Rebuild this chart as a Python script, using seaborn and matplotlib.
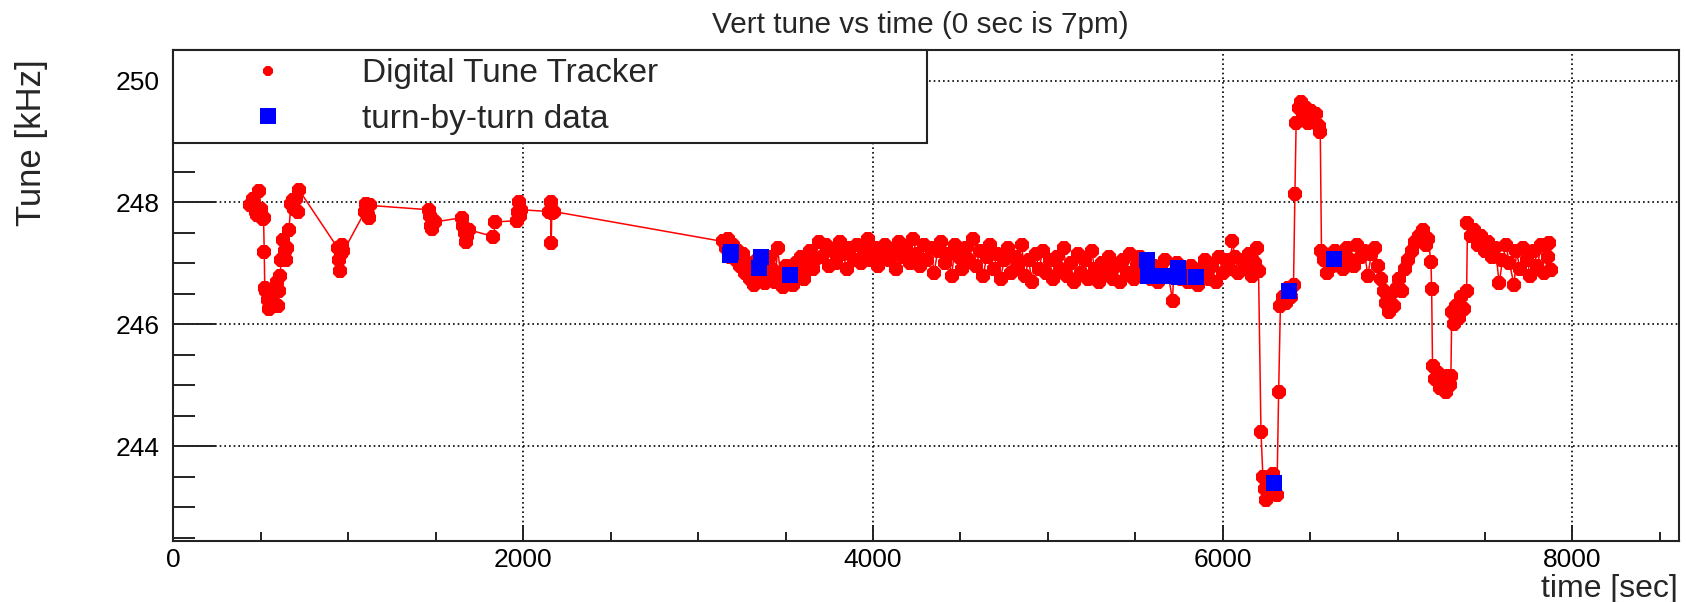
import matplotlib
matplotlib.use("Agg")
import matplotlib.pyplot as plt
from matplotlib.lines import Line2D
from matplotlib.ticker import MultipleLocator
import seaborn as sns
import numpy as np

# Digital Tune Tracker readings (time in sec, tune in kHz)
dtt_time = [
    440, 452, 462, 470, 480, 491, 500, 510, 515, 519, 522, 530, 540, 548, 560,
    575, 590, 600, 605, 610, 615, 624, 635, 643, 650, 660, 672, 681, 690, 700,
    710, 719, 940, 948, 952, 958, 965, 972, 1095, 1100, 1110, 1118, 1125,
    1460, 1468, 1472, 1478, 1490, 1495, 1650, 1655, 1665, 1672, 1680, 1690,
    1830, 1840, 1965, 1972, 1977, 1980, 1985, 2150, 2158, 2160, 2163, 2175,
    3140, 3158, 3172, 3185, 3200, 3215, 3228, 3240, 3255, 3268, 3280, 3295,
    3310, 3322, 3338, 3350, 3365, 3380, 3395, 3410, 3425, 3440, 3455, 3470,
    3485, 3500, 3515, 3530, 3545, 3560, 3575, 3590, 3605, 3620, 3640, 3655,
    3670, 3690, 3710, 3730, 3750, 3770, 3790, 3810, 3830, 3850, 3870, 3890,
    3910, 3930, 3950, 3970, 3990, 4010, 4030, 4050, 4070, 4090, 4110, 4130,
    4150, 4170, 4190, 4210, 4230, 4250, 4270, 4290, 4310, 4330, 4350, 4370,
    4390, 4410, 4430, 4450, 4470, 4490, 4510, 4530, 4550, 4570, 4590, 4610,
    4630, 4650, 4670, 4690, 4710, 4730, 4750, 4770, 4790, 4810, 4830, 4850,
    4870, 4890, 4910, 4930, 4950, 4970, 4990, 5010, 5030, 5050, 5070, 5090,
    5110, 5130, 5150, 5170, 5190, 5210, 5230, 5250, 5270, 5290, 5310, 5330,
    5350, 5370, 5390, 5410, 5430, 5450, 5470, 5490, 5510, 5530, 5550, 5570,
    5590, 5610, 5630, 5650, 5670, 5690, 5713, 5720, 5740, 5760, 5780, 5800,
    5820, 5840, 5860, 5880, 5900, 5920, 5940, 5960, 5980, 6000, 6020, 6040,
    6056, 6070, 6090, 6110, 6130, 6150, 6170, 6185, 6199, 6205,
    6219, 6230, 6240, 6247, 6260, 6272, 6285, 6295, 6310, 6320,
    6330, 6345, 6360, 6375, 6390, 6405, 6413, 6420, 6435, 6445, 6460, 6475,
    6490, 6505, 6520, 6535, 6550, 6558, 6565, 6580, 6595, 6610, 6625, 6640,
    6655, 6670, 6690, 6710, 6730, 6750, 6770, 6790, 6810, 6830, 6850, 6870,
    6890, 6905, 6920, 6935, 6952, 6965, 6980, 6995, 7010, 7025, 7040, 7060,
    7080, 7100, 7120, 7143, 7160, 7175, 7191, 7195, 7200, 7215, 7230, 7245,
    7260, 7275, 7290, 7300, 7305, 7310, 7320, 7335, 7350, 7365, 7380, 7395,
    7400, 7420, 7440, 7460, 7480, 7500, 7520, 7540, 7560, 7581, 7600, 7620,
    7640, 7667, 7680, 7700, 7720, 7740, 7760, 7780, 7800, 7820, 7840, 7860,
    7867, 7880,
]
dtt_tune = [
    247.95, 248.05, 247.98, 247.85, 247.80, 248.18, 247.90, 247.72, 247.75, 247.19, 246.60, 246.55, 246.40, 246.25, 246.50,
    246.35, 246.70, 246.30, 246.55, 246.80, 247.05, 247.38, 247.20, 247.05, 247.25, 247.55, 247.98, 248.04, 247.90, 248.05,
    247.85, 248.20, 247.25, 247.05, 246.88, 247.15, 247.30, 247.20, 247.85, 247.98, 247.80, 247.75, 247.95,
    247.88, 247.78, 247.62, 247.56, 247.70, 247.68, 247.75, 247.62, 247.50, 247.35, 247.45, 247.55,
    247.44, 247.68, 247.70, 247.85, 248.00, 247.78, 247.88, 247.85, 248.00, 247.33, 247.82, 247.85,
    247.36, 247.25, 247.40, 247.10, 247.30, 247.05, 247.20, 246.95, 247.15, 246.85, 247.00, 246.75,
    246.90, 246.65, 247.05, 246.80, 246.95, 246.68, 246.85, 247.10, 246.90, 246.70, 247.25, 246.85,
    246.62, 246.95, 246.75, 246.90, 246.65, 247.00, 246.80, 247.10, 246.75, 246.95, 247.20, 246.90,
    247.05, 247.35, 247.10, 247.30, 246.95, 247.20, 247.00, 247.35, 247.15, 246.90, 247.25, 247.05,
    247.30, 247.00, 247.20, 247.40, 247.05, 247.25, 246.95, 247.15, 247.30, 247.05, 247.20, 246.90,
    247.35, 247.10, 247.25, 247.00, 247.40, 247.15, 246.95, 247.30, 247.05, 247.25, 246.85, 247.20,
    247.35, 247.00, 247.15, 246.80, 247.30, 247.10, 246.90, 247.25, 247.05, 247.40, 246.95, 247.20,
    246.80, 247.10, 247.30, 246.90, 247.15, 246.75, 247.05, 247.25, 246.85, 247.10, 246.95, 247.30,
    246.80, 247.05, 246.70, 247.15, 246.90, 247.20, 246.85, 247.05, 246.75, 247.10, 246.90, 247.25,
    246.80, 247.00, 246.70, 247.15, 246.85, 247.05, 246.75, 247.20, 246.90, 246.70, 247.00, 246.85,
    247.10, 246.75, 246.95, 246.70, 247.05, 246.85, 247.15, 246.75, 246.95, 247.10, 246.80, 247.00,
    246.75, 246.95, 246.70, 246.90, 247.05, 246.80, 246.39, 246.85, 247.00, 246.75, 246.90, 246.70,
    246.95, 246.80, 246.65, 246.90, 247.05, 246.75, 246.95, 246.70, 247.10, 246.85, 247.05, 246.90,
    247.37, 247.10, 246.85, 247.05, 246.90, 247.15, 246.80, 247.00, 247.26, 246.88,
    244.23, 243.50, 243.30, 243.11, 243.45, 243.25, 243.55, 243.35, 243.20, 244.89,
    246.30, 246.45, 246.35, 246.60, 246.45, 246.65, 248.14, 249.30, 249.55, 249.65, 249.40, 249.55,
    249.30, 249.50, 249.35, 249.45, 249.25, 249.15, 247.20, 247.05, 246.85, 247.10, 246.95, 247.20,
    247.00, 247.15, 246.90, 247.25, 247.05, 246.95, 247.30, 247.10, 247.20, 246.80, 247.15, 247.25,
    246.95, 246.75, 246.55, 246.35, 246.20, 246.50, 246.30, 246.60, 246.75, 246.55, 246.90, 247.05,
    247.20, 247.35, 247.45, 247.54, 247.30, 247.40, 247.02, 246.58, 245.32, 245.10, 245.20, 244.95,
    245.05, 244.89, 245.15, 245.00, 245.15, 246.20, 246.00, 246.30, 246.10, 246.45, 246.25, 246.55,
    247.66, 247.45, 247.55, 247.30, 247.45, 247.20, 247.35, 247.10, 247.25, 246.67, 247.05, 247.30,
    247.00, 246.64, 247.20, 246.90, 247.25, 247.05, 246.80, 247.20, 246.95, 247.30, 246.85, 247.10,
    247.33, 246.89,
]

# turn-by-turn data points
tbt_time = [3182, 3190, 3350, 3360, 3525, 5570, 5575, 5665, 5742, 5750, 5846, 6295, 6381, 6638]
tbt_tune = [247.14, 247.18, 246.92, 247.10, 246.81, 247.05, 246.80, 246.80, 246.93, 246.77, 246.77, 243.39, 246.55, 247.07]

x_ticks = [0, 2000, 4000, 6000, 8000]
y_ticks = [244, 246, 248, 250]

sns.set_theme(style="white")
plt.rcParams['font.family'] = ['Liberation Sans', 'DejaVu Sans']

fig = plt.figure(figsize=(16.86, 6.02), dpi=100)
ax = fig.add_axes([0.1029, 0.1018, 0.8930, 0.8151])

# red DTT trace with connecting line
sns.lineplot(x=dtt_time, y=dtt_tune, ax=ax, estimator=None, sort=False,
             color='red', linewidth=1.1, marker='8', markersize=10.5,
             markeredgewidth=0, zorder=3)
# blue turn-by-turn squares
sns.scatterplot(x=tbt_time, y=tbt_tune, ax=ax, color='blue', marker='s',
                s=12 ** 2, linewidth=0, zorder=4)

ax.set_xlim(0, 8610)
ax.set_ylim(242.45, 250.5)
ax.set_xticks(x_ticks)
ax.set_yticks(y_ticks)
ax.xaxis.set_minor_locator(MultipleLocator(500))
ax.yaxis.set_minor_locator(MultipleLocator(0.5))
ax.tick_params(axis='both', which='both', direction='in', color='#222222',
               labelsize=19, labelcolor='black', top=False, right=False)
ax.tick_params(axis='y', which='major', length=31, width=1.4, pad=10, left=True)
ax.tick_params(axis='y', which='minor', length=15.5, width=1.4, left=True)
ax.tick_params(axis='x', which='major', length=11.5, width=1.4, pad=5, bottom=True)
ax.tick_params(axis='x', which='minor', length=6.5, width=1.4, bottom=True)

ax.grid(True, which='major', color='black', linestyle=(0, (1, 1.8)), linewidth=1.2)
for s in ax.spines.values():
    s.set_color('#222222')
    s.set_linewidth(1.5)

ax.set_xlabel('')
ax.set_ylabel('')

handles = [
    Line2D([], [], ls='none', marker='8', markersize=8.5, color='red', markeredgewidth=0),
    Line2D([], [], ls='none', marker='s', markersize=12, color='blue', markeredgewidth=0),
]
leg = ax.legend(handles, ['Digital Tune Tracker', 'turn-by-turn data'],
                loc='upper left', bbox_to_anchor=(0, 0.8166, 0.5005, 0.1834),
                mode='expand', borderaxespad=0, fontsize=24, frameon=True,
                fancybox=False, framealpha=1, edgecolor='#222222',
                borderpad=0.25, labelspacing=0.43, handlelength=5.2,
                handletextpad=0.2)
leg.get_frame().set_linewidth(1.5)

fig.text(920 / 1686, 1 - 25 / 602, 'Vert tune vs time (0 sec is 7pm)',
         ha='center', va='center', fontsize=21.4)
fig.text(32 / 1686, 1 - 59 / 602, 'Tune [kHz]', rotation=90,
         ha='center', va='top', fontsize=25)
fig.text(1678 / 1686, 1 - 589 / 602, 'time [sec]', ha='right', va='center',
         fontsize=23)

fig.savefig('out.png', dpi=100)
